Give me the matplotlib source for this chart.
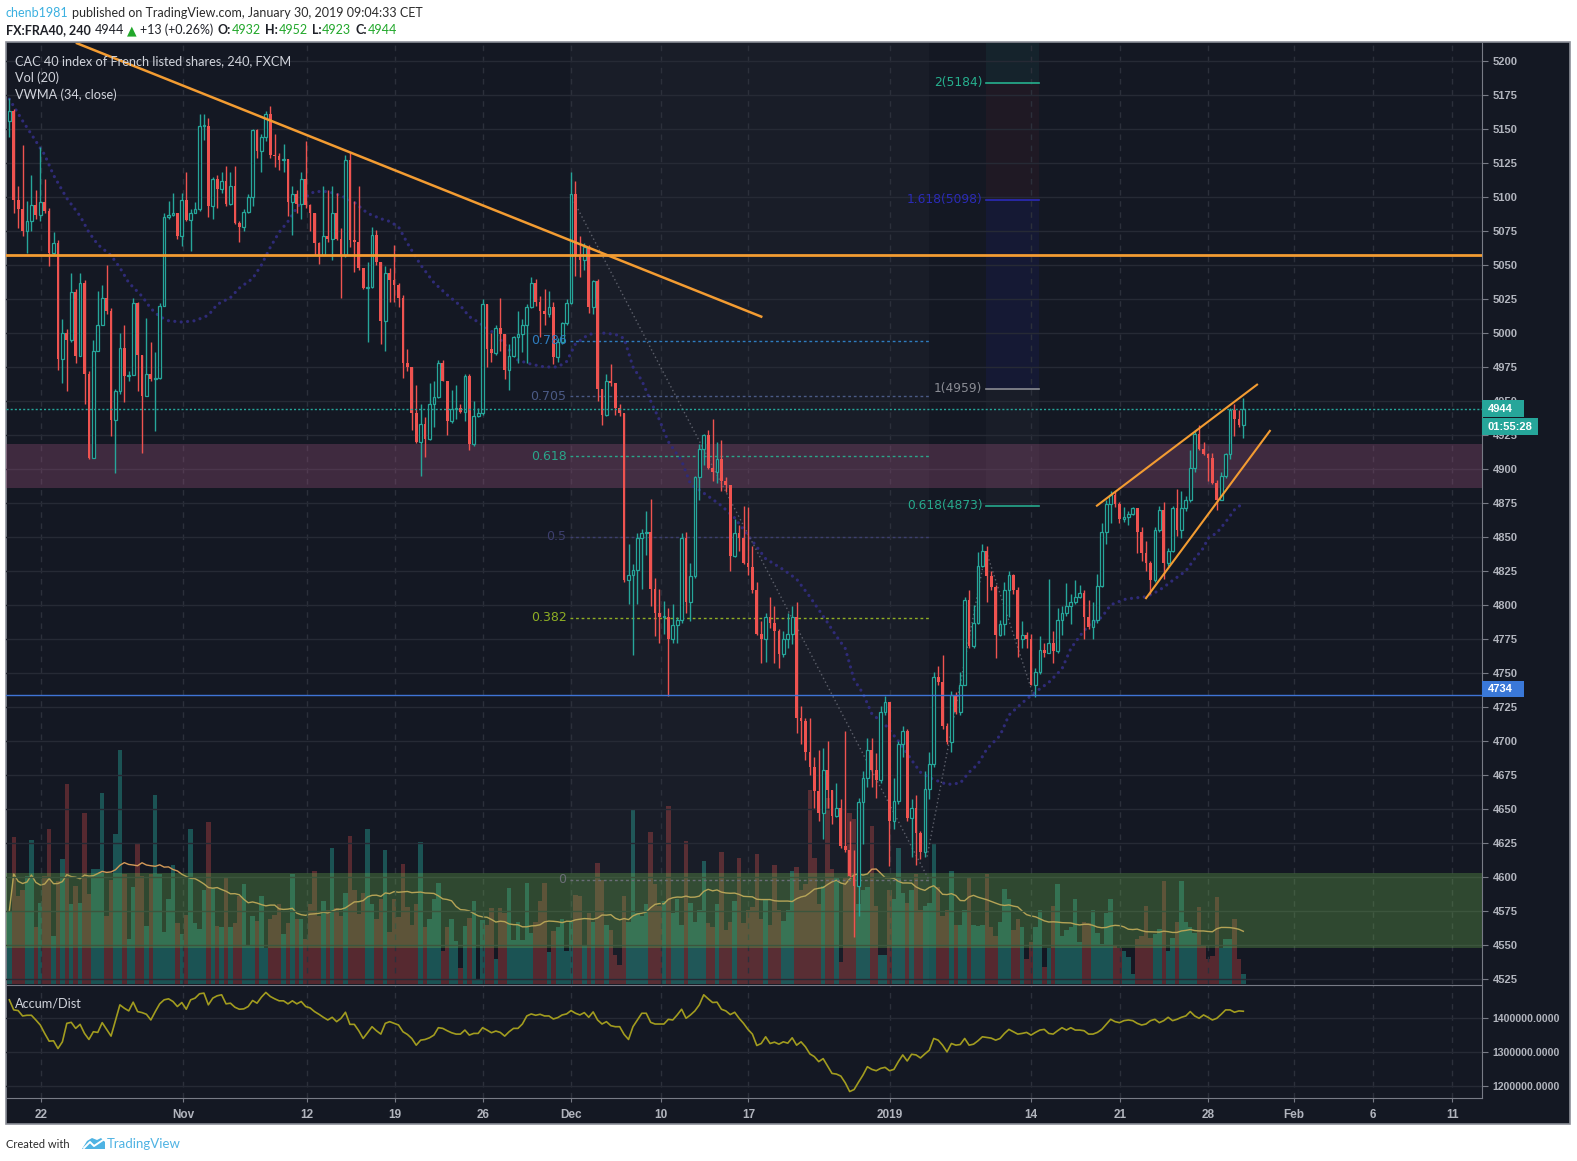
"""Recreation of a TradingView CAC 40 (FX:FRA40, 240) chart snapshot."""

import matplotlib
matplotlib.use("Agg")
import matplotlib.pyplot as plt
import numpy as np
import pandas as pd
from matplotlib.patches import Polygon, Rectangle

plt.rcParams["font.family"] = ["Lato", "DejaVu Sans"]

# ---- data (4h bars, bar 0 = Oct 19 2018, last bar = Jan 30 2019) ----
first_open = 5156
closes = [
    5163, 5098, 5091, 5075, 5082, 5094, 5087, 5096, 5090, 5059,
    5066, 4981, 5000, 4995, 5030, 4983, 5037, 4970, 4908, 4987,
    5006, 5026, 5016, 4936, 4957, 4989, 4968, 4969, 5022, 4984,
    4954, 4970, 4966, 4967, 5020, 5085, 5087, 5088, 5071, 5098,
    5083, 5088, 5091, 5152, 5152, 5093, 5113, 5106, 5112, 5095,
    5108, 5081, 5078, 5089, 5100, 5149, 5134, 5144, 5161, 5131,
    5130, 5127, 5128, 5096, 5102, 5095, 5113, 5094, 5088, 5066,
    5057,
    5071, 5069, 5088, 5069, 5057, 5127, 5068, 5067, 5048, 5033,
    5034, 5072, 5052, 5009, 5044, 5039, 5035, 5026, 4978, 4975,
    4941, 4920, 4933, 4922, 4948, 4953, 4978, 4965, 4935, 4944,
    4945, 4942, 4968, 4918, 4939, 4941, 5021, 4988, 4985, 5004,
    4999, 4973, 4983, 4997, 4999, 5006, 5019, 5037, 5023, 5016,
    5014, 5019, 4982, 4993, 5007, 5022, 5102, 5057, 5054, 5063,
    5019, 5038, 4959, 4940, 4965, 4963, 4945, 4941, 4818,
    4822, 4826, 4849, 4853, 4854, 4812, 4794, 4791, 4791, 4775,
    4785, 4789, 4849, 4802, 4821, 4894, 4915, 4925, 4901, 4898,
    4907, 4891, 4888, 4836, 4853, 4849, 4831, 4828, 4811, 4779,
    4775, 4791, 4787, 4781, 4764, 4775, 4779, 4791, 4717, 4715,
    4692, 4681, 4663, 4647, 4679, 4664, 4645, 4651, 4623, 4620,
    4601, 4593, 4655, 4673, 4693, 4679, 4671, 4721, 4729, 4641,
    4656, 4698, 4707, 4643, 4651, 4632, 4618, 4665, 4683, 4747,
    4743,
    4711, 4699, 4734, 4721, 4741, 4804, 4770, 4787, 4829, 4840,
    4821, 4813, 4778, 4786, 4811, 4822, 4811, 4775, 4778, 4775,
    4741, 4751, 4767, 4765, 4772, 4766, 4789, 4794, 4799, 4802,
    4806, 4809, 4791, 4784, 4789, 4814, 4854, 4874, 4881, 4874,
    4863, 4865, 4867, 4871, 4854, 4838, 4831, 4818, 4855, 4870,
    4831, 4840, 4871, 4855, 4871, 4877, 4901, 4926, 4915, 4911,
    4908, 4890, 4877, 4895, 4911, 4943, 4937, 4932, 4944,
]
highs = [
    5173, 5165, 5108, 5138, 5097, 5116, 5105, 5137, 5113, 5092,
    5074, 5068, 5010, 5003, 5044, 5032, 5044, 5039, 4972, 4995,
    5031, 5035, 5050, 5018, 4959, 5000, 5006, 4972, 5026, 5023,
    4984, 5011, 4993, 4986, 5022, 5088, 5097, 5103, 5088, 5103,
    5118, 5091, 5096, 5161, 5161, 5158, 5115, 5116, 5118, 5123,
    5118, 5123, 5082, 5091, 5102, 5150, 5150, 5146, 5163, 5167,
    5146, 5132, 5139, 5128, 5108, 5105, 5118, 5141, 5095, 5088,
    5067,
    5108, 5105, 5108, 5103, 5077, 5131, 5133, 5097, 5108, 5048,
    5052, 5078, 5076, 5052, 5049, 5048, 5065, 5037, 5028, 4988,
    4975, 4962, 4948, 4938, 4963, 4965, 4980, 4980, 4965, 4958,
    4962, 4948, 4970, 4970, 4950, 4945, 5025, 5021, 5000, 5006,
    5026, 4999, 4992, 4998, 5016, 5010, 5021, 5041, 5040, 5027,
    5032, 5031, 5023, 4996, 5008, 5025, 5118, 5112, 5071, 5066,
    5065, 5039, 5040, 4959, 4970, 4977, 4963, 4948, 4941,
    4845, 4830, 4853, 4856, 4869, 4878, 4820, 4812, 4803, 4798,
    4801, 4791, 4853, 4854, 4831, 4895, 4918, 4926, 4929, 4937,
    4920, 4921, 4894, 4888, 4863, 4859, 4873, 4872, 4843, 4817,
    4788, 4794, 4806, 4799, 4782, 4781, 4794, 4799, 4802, 4726,
    4717, 4717, 4688, 4693, 4695, 4700, 4664, 4669, 4657, 4707,
    4641, 4620, 4658, 4678, 4702, 4702, 4691, 4726, 4733, 4729,
    4673, 4700, 4711, 4709, 4657, 4660, 4634, 4678, 4692, 4751,
    4755,
    4763, 4713, 4737, 4736, 4751, 4806, 4811, 4800, 4839, 4845,
    4843, 4825, 4815, 4789, 4817, 4825, 4823, 4813, 4788, 4780,
    4779, 4754, 4777, 4772, 4819, 4781, 4798, 4799, 4816, 4808,
    4818, 4815, 4811, 4804, 4802, 4823, 4860, 4877, 4884, 4884,
    4876, 4872, 4869, 4872, 4870, 4857, 4847, 4832, 4857, 4873,
    4876, 4842, 4873, 4885, 4884, 4880, 4914, 4929, 4932, 4920,
    4912, 4912, 4892, 4898, 4912, 4945, 4948, 4943, 4952,
]
lows = [
    5144, 5088, 5077, 5071, 5059, 5075, 5084, 5082, 5088, 5049,
    5057, 4973, 4963, 4957, 4993, 4978, 4983, 4948, 4907, 4909,
    4987, 5006, 5014, 4924, 4897, 4955, 4949, 4965, 4969, 4957,
    4912, 4954, 4965, 4928, 4966, 5020, 5084, 5086, 5069, 5064,
    5082, 5060, 5088, 5090, 5142, 5085, 5084, 5092, 5103, 5093,
    5094, 5080, 5067, 5075, 5088, 5093, 5129, 5118, 5141, 5129,
    5122, 5120, 5118, 5086, 5072, 5088, 5084, 5092, 5075, 5057,
    5051,
    5059, 5067, 5054, 5068, 5026, 5056, 5063, 5045, 5046, 5032,
    4993, 5033, 5050, 4992, 4987, 5023, 5023, 5019, 4967, 4972,
    4929, 4919, 4895, 4909, 4921, 4931, 4952, 4965, 4925, 4934,
    4937, 4941, 4935, 4914, 4917, 4938, 4940, 4975, 4979, 4984,
    4987, 4966, 4958, 4982, 4978, 4986, 4978, 5018, 5020, 4997,
    5006, 5012, 4977, 4979, 4992, 5006, 5021, 5042, 5041, 5046,
    5015, 5014, 4950, 4932, 4939, 4961, 4940, 4939, 4817,
    4801, 4763, 4801, 4812, 4837, 4799, 4777, 4772, 4779, 4733,
    4772, 4772, 4787, 4794, 4788, 4820, 4877, 4903, 4900, 4891,
    4890, 4884, 4883, 4825, 4835, 4840, 4830, 4822, 4809, 4778,
    4757, 4758, 4783, 4757, 4754, 4762, 4768, 4771, 4706, 4698,
    4686, 4675, 4651, 4641, 4628, 4651, 4639, 4644, 4621, 4618,
    4600, 4556, 4571, 4624, 4666, 4666, 4658, 4669, 4719, 4608,
    4635, 4654, 4688, 4641, 4615, 4609, 4613, 4615, 4657, 4681,
    4741,
    4709, 4698, 4692, 4720, 4719, 4741, 4768, 4768, 4786, 4828,
    4802, 4811, 4761, 4777, 4778, 4791, 4808, 4762, 4768, 4768,
    4741, 4732, 4749, 4762, 4766, 4757, 4765, 4778, 4792, 4786,
    4801, 4805, 4775, 4782, 4775, 4787, 4813, 4845, 4860, 4872,
    4860, 4861, 4859, 4866, 4838, 4832, 4825, 4808, 4817, 4854,
    4819, 4829, 4839, 4851, 4849, 4869, 4876, 4898, 4914, 4910,
    4891, 4889, 4870, 4877, 4893, 4907, 4924, 4931, 4923,
]
volumes = [
    73, 147, 88, 94, 108, 144, 57, 81, 108, 155,
    48, 103, 125, 200, 80, 98, 81, 171, 90, 115,
    115, 191, 68, 104, 150, 234, 110, 45, 97, 140,
    108, 58, 110, 189, 110, 52, 85, 119, 61, 50,
    69, 155, 61, 55, 94, 162, 96, 58, 57, 106,
    57, 61, 88, 100, 39, 68, 63, 88, 36, 65,
    69, 80, 50, 61, 110, 65, 65, 45, 80, 113,
    68,
    83, 74, 136, 76, 68, 91, 148, 94, 70, 91,
    155, 80, 65, 85, 134, 52, 85, 67, 120, 77,
    59, 80, 142, 57, 65, 85, 101, 33, 57, 65,
    43, 16, 58, 66, 83, 5, 64, 59, 76, 25,
    76, 71, 96, 44, 62, 44, 101, 51, 62, 83,
    101, 32, 53, 57, 65, 33, 62, 89, 88, 39,
    71, 62, 121, 104, 59, 54, 29, 19, 88,
    62, 175, 71, 68, 80, 152, 100, 78, 83, 178,
    71, 85, 59, 143, 81, 62, 74, 123, 61, 57,
    80, 132, 54, 62, 83, 126, 61, 74, 77, 130,
    65, 85, 59, 119, 74, 63, 74, 113, 117, 94,
    100, 194, 126, 80, 98, 186, 115, 106, 22, 106,
    171, 165, 80, 94, 97, 158, 78, 29, 29, 94,
    85, 136, 91, 81, 94, 110, 74, 78, 81, 140,
    97,
    68, 74, 113, 59, 59, 74, 106, 59, 58, 59,
    110, 57, 48, 62, 95, 85, 54, 65, 57, 25,
    42, 57, 74, 17, 36, 78, 100, 48, 54, 57,
    85, 42, 62, 61, 74, 51, 40, 71, 85, 39,
    36, 33, 27, 10, 45, 48, 78, 46, 50, 55,
    103, 33, 46, 62, 103, 62, 57, 51, 77, 39,
    25, 28, 87, 36, 45, 45, 65, 25, 10,
]
accum_dist_k = [
    1455, 1425, 1423, 1407, 1409, 1409, 1395, 1380, 1355, 1332,
    1333, 1310, 1330, 1385, 1388, 1370, 1382, 1355, 1337, 1360,
    1358, 1387, 1367, 1347, 1393, 1440, 1430, 1422, 1448, 1420,
    1417, 1412, 1395, 1420, 1443, 1455, 1458, 1450, 1435, 1447,
    1427, 1455, 1460, 1473, 1475, 1440, 1460, 1467, 1470, 1443,
    1445, 1433, 1427, 1428, 1435, 1453, 1445, 1463, 1477, 1465,
    1458, 1452, 1452, 1443, 1452, 1443, 1450, 1435, 1431, 1420,
    1412, 1403, 1395, 1403, 1390, 1400, 1418, 1382, 1382, 1363,
    1340, 1357, 1375, 1363, 1353, 1385, 1390, 1385, 1380, 1360,
    1352, 1340, 1320, 1335, 1337, 1342, 1350, 1372, 1370, 1363,
    1357, 1353, 1353, 1365, 1350, 1355, 1355, 1372, 1365, 1357,
    1362, 1358, 1347, 1360, 1370, 1370, 1383, 1407, 1413, 1409,
    1412, 1407, 1407, 1398, 1402, 1410, 1413, 1423, 1415, 1410,
    1417, 1403, 1419, 1395, 1383, 1390, 1378, 1375, 1375, 1352,
    1337,
    1375, 1395, 1415, 1415, 1388, 1383, 1383, 1383, 1397, 1395,
    1410, 1427, 1400, 1410, 1422, 1440, 1470, 1458, 1447, 1448,
    1427, 1422, 1411, 1418, 1400, 1385, 1367, 1353, 1319, 1325,
    1345, 1325, 1329, 1323, 1330, 1326, 1342, 1320, 1330, 1315,
    1294, 1286, 1271, 1280, 1258, 1236, 1234, 1228, 1208, 1182,
    1188, 1210, 1231, 1256, 1248, 1244, 1251, 1254, 1244, 1248,
    1271, 1291, 1273, 1293, 1291, 1282, 1294, 1305, 1340, 1335,
    1320, 1300, 1325, 1320, 1322, 1340, 1320, 1323, 1333, 1345,
    1343, 1341, 1335, 1340, 1355, 1367, 1360, 1353, 1355, 1358,
    1350, 1358, 1365, 1367, 1355, 1353, 1363, 1372, 1365, 1372,
    1365, 1365, 1363, 1353, 1353, 1358, 1367, 1382, 1397, 1390,
    1387, 1393, 1395, 1393, 1385, 1380, 1383, 1393, 1397, 1387,
    1393, 1403, 1393, 1397, 1403, 1407, 1420, 1407, 1400, 1410,
    1403, 1395, 1400, 1412, 1425, 1425, 1418, 1422, 1421,
]
vwma_bar = [
    0, 3, 5, 8, 10, 13, 16, 18, 20, 23, 25, 27, 30, 32, 34, 36, 39, 42, 45, 47,
    50, 52, 55, 57, 59, 61, 63, 65, 67, 69, 72, 75, 78, 81, 84, 86, 88, 90, 93, 96,
    99, 102, 104, 106, 110, 115, 118, 121, 124, 126, 128, 131, 134, 137, 139, 141, 143, 145, 147, 149,
    152, 154, 158, 161, 164, 168, 171, 175, 178, 181, 185, 187, 189, 191, 193, 195, 198, 201, 204, 206,
    208, 212, 215, 217, 219, 221, 224, 226, 229, 232, 235, 238, 240, 242, 244, 247, 249, 252, 254, 257,
    259, 261, 263, 266, 268, 270, 271, 273, 275, 277, 279,
]
vwma_value = [
    5172, 5156, 5146, 5131, 5116, 5099, 5086, 5074, 5065, 5057, 5048, 5037, 5027, 5018, 5012, 5009, 5008, 5009, 5013, 5021,
    5026, 5033, 5040, 5050, 5063, 5074, 5082, 5092, 5100, 5104, 5104, 5101, 5096, 5088, 5084, 5082, 5078, 5066, 5050, 5037,
    5028, 5020, 5012, 5008, 4999, 4980, 4977, 4975, 4975, 4979, 4992, 4999, 5000, 4999, 4996, 4975, 4965, 4950, 4936, 4920,
    4906, 4889, 4880, 4873, 4864, 4847, 4834, 4826, 4819, 4806, 4787, 4777, 4768, 4745, 4735, 4720, 4712, 4700, 4686, 4677,
    4673, 4668, 4669, 4677, 4683, 4694, 4704, 4719, 4728, 4736, 4743, 4753, 4768, 4777, 4785, 4791, 4800, 4804, 4805, 4806,
    4809, 4813, 4818, 4825, 4834, 4842, 4849, 4853, 4861, 4870, 4875,
]

date_ticks = [7.2, 39.3, 67.2, 87.1, 107.1, 127.0, 147.3, 167.1, 199.1, 231.0, 251.1, 271.0, 290.5, 308.3, 326.2]
date_labels = ["22", "Nov", "12", "19", "26", "Dec", "10", "17", "2019", "14", "21", "28", "Feb", "6", "11"]

# drawings on the chart
resistance_level = 5057
blue_level = 4734
last_price = 4944
pink_zone = (4886, 4918)
green_zone = (4548, 4603)
trend_bar, trend_price = [15.3, 170.0], [5213, 5012]
wedge_up_bar, wedge_up_price = [245.9, 282.1], [4873, 4962]
wedge_lo_bar, wedge_lo_price = [257.0, 285.0], [4805, 4928]
fib_ret_bar = [126.8, 207.9]
fib_ret_price = [5102, 4598]
fib_ret_levels = [0.786, 0.705, 0.618, 0.5, 0.382, 0]
fib_ret_colors = ["#2e7cbf", "#4b5a85", "#2aa58a", "#3d3f6e", "#8fae23", "#6b6e78"]
fib_ext_bar = [220.8, 232.8]
fib_ext_pts_bar = [207.5, 220.8, 231.5]
fib_ext_pts_price = [4615, 4840, 4734]
fib_ext_levels = [2, 1.618, 1, 0.618]
fib_ext_colors = ["#26b08e", "#2b2bb8", "#8a8c94", "#26a98c"]

# ---- styling ----
W, H = 1577, 1161
BG = "#141823"
GRID = "#262a35"
TXT = "#b2b5be"
UP = "#26a69a"
DOWN = "#ef5350"
ORANGE = "#f39c32"
AXFONT = "Liberation Sans"
PRICE_LO, PRICE_HI = 4521.3, 5213.2
X_LO, X_HI = -0.75, 332.96

fig = plt.figure(figsize=(W / 100, H / 100), dpi=100, facecolor="white")


def px_axes(x0, y0, x1, y1):
    return fig.add_axes([x0 / W, 1 - y1 / H, (x1 - x0) / W, (y1 - y0) / H])


back = px_axes(0, 0, W, H)
back.set_xlim(0, W)
back.set_ylim(H, 0)
back.axis("off")
back.set_zorder(-5)
back.add_patch(Rectangle((6, 42), 1564, 1082, facecolor=BG, edgecolor="#8c8f98", lw=1.2))

vax = px_axes(6, 43, 1482, 984)
ax = px_axes(6, 43, 1482, 984)
low = px_axes(6, 985, 1482, 1098)
front = px_axes(0, 0, W, H)
for a, z in ((vax, 1), (ax, 2), (low, 2), (front, 6)):
    a.set_zorder(z)
    a.patch.set_visible(False)
front.set_xlim(0, W)
front.set_ylim(H, 0)
front.axis("off")

c = np.array(closes, dtype=float)
o = np.r_[first_open, c[:-1]]
hi = np.maximum(np.array(highs, dtype=float), np.maximum(o, c))
lo = np.minimum(np.array(lows, dtype=float), np.minimum(o, c))
x = np.arange(len(c))
up = c >= o

# ---- volume overlay ----
vol_colors = np.where(up[:, None], [[38 / 255, 166 / 255, 154 / 255, 0.42]], [[239 / 255, 83 / 255, 80 / 255, 0.30]])
vax.bar(x, volumes, width=1.0, color=vol_colors, lw=0)
vax.plot(x, pd.Series(volumes).rolling(20, min_periods=1).mean(), color="#d49a58", lw=1)
vax.set_xlim(X_LO, X_HI)
vax.set_ylim(0, 941)
vax.axis("off")

# ---- main price pane ----
ax.set_xlim(X_LO, X_HI)
ax.set_ylim(PRICE_LO, PRICE_HI)
prices = np.arange(4525, 5201, 25)
ax.set_yticks(prices, [str(p) for p in prices], fontweight="bold", fontsize=8, family=AXFONT, color=TXT)
ax.yaxis.tick_right()
ax.tick_params(axis="y", length=4, color="#787b86", pad=3.5)
ax.set_xticks(date_ticks)
ax.tick_params(axis="x", length=0, labelbottom=False)
ax.grid(axis="y", color=GRID, lw=1)
ax.grid(axis="x", color="#2c303b", lw=1, ls=(0, (4, 4)))
ax.set_axisbelow(True)
for name, sp in ax.spines.items():
    sp.set_visible(name == "right")
ax.spines["right"].set_color("#787b86")

# zones and fib backgrounds
ax.axhspan(*pink_zone, color=(0.61, 0.32, 0.49), alpha=0.32, lw=0, zorder=1)
ax.axhspan(*green_zone, color="#70ba51", alpha=0.3, lw=0, zorder=1)
ax.axvspan(*fib_ret_bar, color="white", alpha=0.025, lw=0, zorder=0.5)

ext_range = fib_ext_pts_price[1] - fib_ext_pts_price[0]
ext_prices = [fib_ext_pts_price[2] + lv * ext_range for lv in fib_ext_levels]
band_edges = [PRICE_HI + 5] + ext_prices
band_colors = [("#26a69a", 0.08), ("#f23645", 0.05), ("#2a2ae0", 0.09), ("#787b86", 0.06)]
for (top, bot), (col, al) in zip(zip(band_edges[:-1], band_edges[1:]), band_colors):
    ax.fill_between(fib_ext_bar, bot, top, color=col, alpha=al, lw=0, zorder=0.5)

# horizontal lines
ax.axhline(resistance_level, color=ORANGE, lw=2, zorder=6)
ax.axhline(blue_level, color="#3f74d6", lw=1, zorder=6)
ax.axhline(last_price, color=UP, lw=1, ls=(0, (1.5, 1.5)), zorder=6)

# VWMA dots
ax.plot(vwma_bar, vwma_value, color="#2f2b78", lw=2.3, ls=(0, (0.01, 2.0)), dash_capstyle="round", zorder=3)

# candles
ax.vlines(x, lo, hi, colors=np.where(up, UP, DOWN), lw=1, zorder=4)
body_lo = np.minimum(o, c)
body_h = np.maximum(np.abs(c - o), 0.7)
ax.bar(x[up], body_h[up], bottom=body_lo[up], width=0.62, facecolor=BG, edgecolor=UP, lw=0.9, zorder=5)
ax.bar(x[~up], body_h[~up], bottom=body_lo[~up], width=0.62, color=DOWN, lw=0, zorder=5)

# trend lines
ax.plot(trend_bar, trend_price, color=ORANGE, lw=1.8, zorder=7)
ax.plot(wedge_up_bar, wedge_up_price, color=ORANGE, lw=1.5, zorder=7)
ax.plot(wedge_lo_bar, wedge_lo_price, color=ORANGE, lw=1.5, zorder=7)

# fib retracement
ax.plot(fib_ret_bar, fib_ret_price, color="#5d606b", lw=1, ls=(0, (1, 2)), zorder=3)
for lv, col in zip(fib_ret_levels, fib_ret_colors):
    p = fib_ret_price[1] + lv * (fib_ret_price[0] - fib_ret_price[1])
    ax.plot(fib_ret_bar, [p, p], color=col, lw=1, ls=(0, (2, 2)), zorder=3)
    ax.text(fib_ret_bar[0] - 0.8, p, f"{lv:g}", color=col, ha="right", va="center",
            fontsize=9, family="DejaVu Sans", zorder=8)

# trend-based fib extension
ax.plot(fib_ext_pts_bar, fib_ext_pts_price, color="#5d606b", lw=1, ls=(0, (1, 2)), zorder=3)
for lv, p, col in zip(fib_ext_levels, ext_prices, fib_ext_colors):
    ax.plot(fib_ext_bar, [p, p], color=col, lw=1.2, zorder=3)
    ax.text(fib_ext_bar[0] - 0.8, p, f"{lv:g}({p:.0f})", color=col, ha="right", va="center",
            fontsize=8.8, family="DejaVu Sans", zorder=8)

# ---- accumulation / distribution pane ----
low.plot(np.arange(len(accum_dist_k)), np.array(accum_dist_k) * 1000, color="#a29c1f", lw=1.2)
low.set_xlim(X_LO, X_HI)
low.set_ylim(1162798, 1499107)
ad_ticks = [1200000, 1300000, 1400000]
low.set_yticks(ad_ticks, [f"{t}.0000" for t in ad_ticks], fontweight="bold", fontsize=7.6,
               family=AXFONT, color=TXT)
low.yaxis.tick_right()
low.tick_params(axis="y", length=4, color="#787b86", pad=3.5)
low.set_xticks(date_ticks, date_labels, fontweight="bold", fontsize=8.5, family=AXFONT, color=TXT)
low.tick_params(axis="x", length=3, color="#787b86", pad=5)
low.grid(axis="y", color=GRID, lw=1)
low.grid(axis="x", color="#2c303b", lw=1, ls=(0, (4, 4)))
low.set_axisbelow(True)
low.spines["left"].set_visible(False)
for name in ("right", "top", "bottom"):
    low.spines[name].set_color("#787b86")

# ---- texts ----
renderer = fig.canvas.get_renderer()


def text_runs(target, x0, y0, runs, size):
    for s, color, weight, gap in runs:
        t = target.text(x0, y0, s, color=color, fontsize=size, fontweight=weight, va="center", ha="left")
        x0 += t.get_window_extent(renderer).width + gap


GREEN = "#22a82b"
DARK = "#1f2128"
text_runs(back, 6, 13, [("chenb1981", "#3bb0e0", "normal", 3),
                        ("published on TradingView.com, January 30, 2019 09:04:33 CET", "#2b2b2b", "normal", 0)], 9)
text_runs(back, 6, 30, [("FX:FRA40, 240", DARK, "bold", 4), ("4944", DARK, "normal", 3), ("▲", GREEN, "normal", 3),
                        ("+13 (+0.26%)", DARK, "normal", 4), ("O:", DARK, "bold", 1), ("4932", GREEN, "normal", 4),
                        ("H:", DARK, "bold", 1), ("4952", GREEN, "normal", 4), ("L:", DARK, "bold", 1),
                        ("4923", GREEN, "normal", 4), ("C:", DARK, "bold", 1), ("4944", GREEN, "normal", 0)], 9)

for ty, s in ((61, "CAC 40 index of French listed shares, 240, FXCM"), (78, "Vol (20)"), (95, "VWMA (34, close)")):
    front.text(15, ty, s, color="#d1d4dc", fontsize=9.2, va="center", ha="left")
front.text(15, 1003, "Accum/Dist", color="#d1d4dc", fontsize=9.2, va="center", ha="left")

# price tags on the axis
for y0, hgt, wid, col, s in ((400, 17, 42, UP, "4944"), (418, 17, 56, UP, "01:55:28"),
                             (681, 16, 42, "#3a78d8", "4734")):
    front.add_patch(Rectangle((1482, y0), wid, hgt, facecolor=col, lw=0))
    front.text(1488, y0 + hgt / 2, s, color="white", fontsize=8, fontweight="bold",
               family=AXFONT, va="center", ha="left")

# footer
back.text(6, 1144, "Created with", color="#2b2b2b", fontsize=8, va="center", ha="left")
back.add_patch(Polygon([(82, 1149), (87, 1141), (92, 1138), (97, 1140), (101, 1138), (105, 1142), (105, 1149)],
                       closed=True, facecolor="#4fb3e3", lw=0))
back.plot([84, 90, 94, 103], [1148, 1142, 1146, 1140], color="white", lw=1.4)
back.text(107, 1144, "TradingView", color="#4fb3e3", fontsize=9.5, va="center", ha="left")

fig.savefig("out.png", dpi=100, facecolor="white")
